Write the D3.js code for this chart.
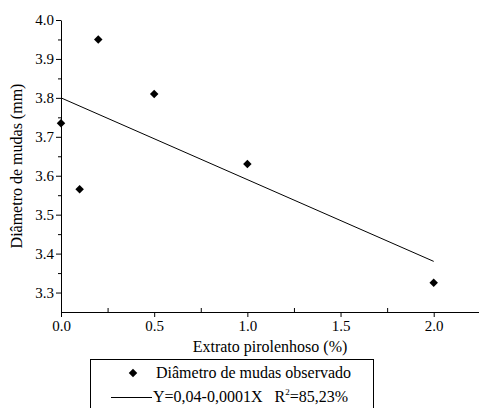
<!DOCTYPE html>
<html>
<head>
<meta charset="utf-8">
<script src="https://cdn.jsdelivr.net/npm/d3@7"></script>
<style>
  body { margin: 0; background: #fff; }
</style>
</head>
<body>
<svg id="chart" width="479" height="408"></svg>
<script>
// observed values
const doses = [0, 0.1, 0.2, 0.5, 1.0, 2.0];
const diametro = [3.735, 3.565, 3.95, 3.81, 3.63, 3.325];
// fitted line end points
const fitX = [0, 2.0];
const fitY = [3.80, 3.38];
const xTicks = [0, 0.5, 1.0, 1.5, 2.0];
const yTicks = [3.3, 3.4, 3.5, 3.6, 3.7, 3.8, 3.9, 4.0];

const margin = {top: 20, right: 0, bottom: 96, left: 61};
const W = 479, H = 408;
const FONT = 'Liberation Serif';

const svg = d3.select('#chart');
const g = svg.append('g').attr('transform', `translate(${margin.left},${margin.top})`);
const width = W - margin.left - margin.right;
const height = H - margin.top - margin.bottom;

const x = d3.scaleLinear().domain([0, 2.243]).range([0, width]);
const y = d3.scaleLinear().domain([3.25, 4.0]).range([height, 0]);

// minor ticks first
g.append('g')
  .attr('transform', `translate(0,${height})`)
  .call(d3.axisBottom(x).tickValues(d3.range(0.25, 2.25, 0.5)).tickSize(-4).tickFormat(''))
  .call(a => a.select('.domain').remove());
g.append('g')
  .call(d3.axisLeft(y).tickValues(d3.range(3.35, 4.0, 0.1)).tickSize(3).tickFormat(''))
  .call(a => a.select('.domain').remove());

g.append('g')
  .attr('transform', `translate(0,${height})`)
  .call(d3.axisBottom(x).tickValues(xTicks).tickSize(5).tickPadding(3).tickFormat(d3.format('.1f')).tickSizeOuter(0));
g.append('g')
  .call(d3.axisLeft(y).tickValues(yTicks).tickSize(5).tickPadding(2).tickFormat(d3.format('.1f')).tickSizeOuter(0));

svg.selectAll('.tick text').attr('font-size', 15);
svg.selectAll('.domain, .tick line').attr('stroke', '#000');

// fitted line
g.append('line')
  .attr('x1', x(fitX[0])).attr('y1', y(fitY[0]))
  .attr('x2', x(fitX[1])).attr('y2', y(fitY[1]))
  .attr('stroke', '#000').attr('stroke-width', 1);

// points
const sym = d3.symbol(d3.symbolSquare, 36);
g.selectAll('.pt').data(doses).enter().append('path')
  .attr('class', 'pt')
  .attr('d', sym)
  .attr('transform', (d, i) => `translate(${x(d)},${y(diametro[i])}) rotate(45)`)
  .attr('fill', '#000');

// axis titles
svg.append('text')
  .attr('x', 270).attr('y', 352)
  .attr('text-anchor', 'middle').attr('font-size', 16)
  .text('Extrato pirolenhoso (%)');
svg.append('text')
  .attr('transform', 'translate(22,166) rotate(-90)')
  .attr('text-anchor', 'middle').attr('font-size', 16)
  .text('Diâmetro de mudas (mm)');

// legend
const lg = svg.append('g');
lg.append('rect')
  .attr('x', 90.5).attr('y', 359.5).attr('width', 283).attr('height', 60)
  .attr('fill', 'none').attr('stroke', '#000');
lg.append('path')
  .attr('d', sym)
  .attr('transform', 'translate(133,373) rotate(45)');
lg.append('text').attr('x', 156).attr('y', 378).attr('font-size', 16)
  .text('Diâmetro de mudas observado');
lg.append('line')
  .attr('x1', 111).attr('x2', 152).attr('y1', 397.5).attr('y2', 397.5)
  .attr('stroke', '#000');
const t = lg.append('text').attr('x', 153).attr('y', 402).attr('font-size', 16);
t.append('tspan').text('Y=0,04-0,0001X\u00a0\u00a0\u00a0R');
t.append('tspan').attr('font-size', 9).attr('dy', -7).text('2');
t.append('tspan').attr('dy', 7).text('=85,23%');

svg.selectAll('g').attr('font-family', FONT);
svg.selectAll('text').style('font-family', FONT).attr('fill', '#000');
</script>
</body>
</html>
